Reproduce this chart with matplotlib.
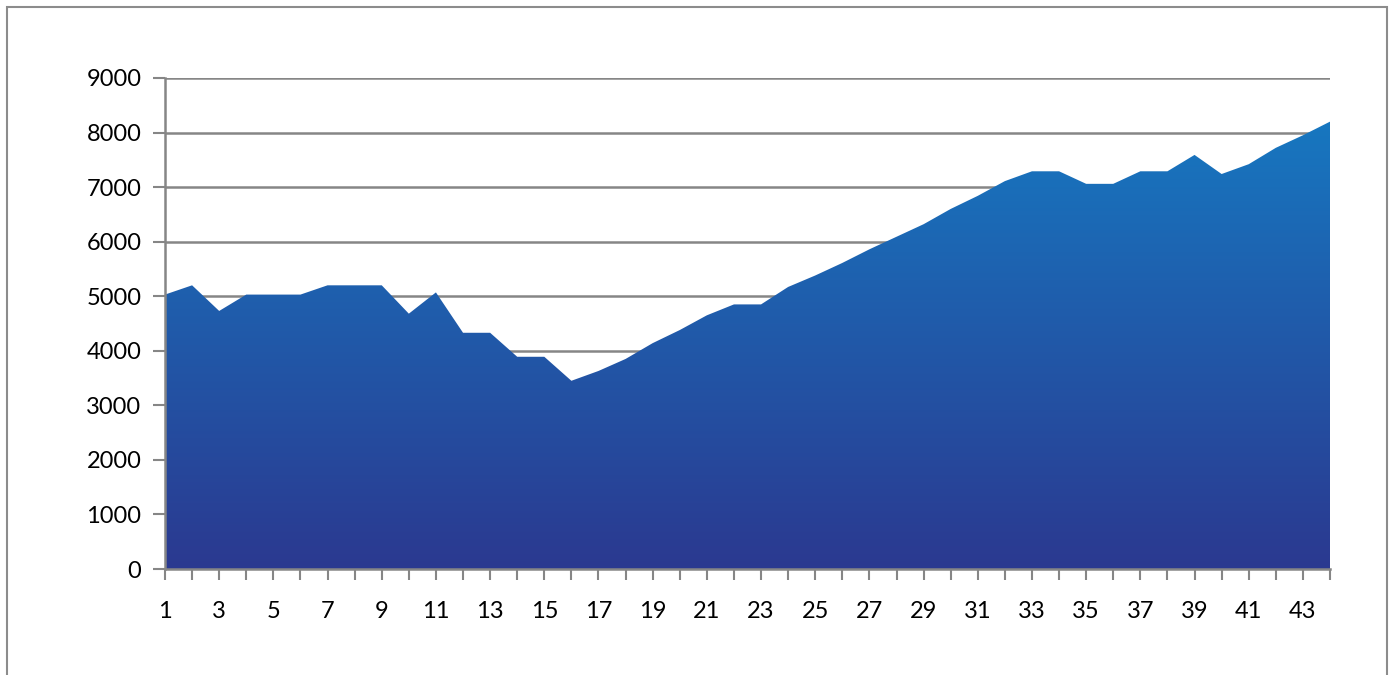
import numpy as np
import matplotlib
matplotlib.use("Agg")
import matplotlib.pyplot as plt
from matplotlib.colors import LinearSegmentedColormap
from matplotlib.patches import Rectangle, PathPatch

periods = list(range(1, 45))
values = [5030, 5200, 4730, 5030, 5030, 5030, 5200, 5200, 5200, 4680,
          5070, 4330, 4330, 3890, 3890, 3450, 3630, 3850, 4140, 4380,
          4650, 4850, 4850, 5170, 5380, 5610, 5860, 6090, 6320, 6600,
          6840, 7110, 7290, 7290, 7060, 7060, 7290, 7290, 7590, 7240,
          7420, 7720, 7950, 8200]
y_ticks = [0, 1000, 2000, 3000, 4000, 5000, 6000, 7000, 8000, 9000]

plt.rcParams['font.family'] = ['Lato', 'DejaVu Sans']

fig = plt.figure(figsize=(13.94, 6.75), dpi=100)
fig.patches.append(Rectangle((7/1394, -0.01), (1387-7)/1394, 1 - 7/675 + 0.01,
                             transform=fig.transFigure, fill=False,
                             edgecolor='#8c8c8c', linewidth=1.5))
ax = fig.add_axes([165/1394, 1-569/675, (1330-165)/1394, (569-78)/675])

ax.set_xlim(1, 44)
ax.set_ylim(0, 9000)

# gradient fill
poly = ax.fill_between(periods, values, 0, color='none', linewidth=0)
cmap = LinearSegmentedColormap.from_list('g', ['#2b3990', '#1777c0'])
top = max(values)
grad = np.linspace(0, 1, 256).reshape(-1, 1)
im = ax.imshow(grad, cmap=cmap, origin='lower', aspect='auto',
               extent=[1, 44, 0, top], zorder=2)
path = poly.get_paths()[0]
clip = PathPatch(path, transform=ax.transData, facecolor='none', edgecolor='none')
ax.add_patch(clip)
im.set_clip_path(clip)

ax.set_yticks(y_ticks)
ax.set_yticklabels([str(t) for t in y_ticks])
ax.set_xticks(periods)
ax.set_xticklabels([str(p) if p % 2 == 1 else '' for p in periods])

ax.grid(axis='y', color='#868686', linewidth=1.8, zorder=1)
ax.set_axisbelow(True)
for s in ['top', 'right']:
    ax.spines[s].set_visible(False)
for s in ['left', 'bottom']:
    ax.spines[s].set_color('#868686')
    ax.spines[s].set_linewidth(1.8)
    ax.spines[s].set_zorder(3)
ax.tick_params(axis='y', length=9, width=1.5, color='#868686', labelsize=17, pad=8)
ax.tick_params(axis='x', length=8, width=1.5, color='#868686', labelsize=17, pad=15)

fig.savefig('out.png', dpi=100)
